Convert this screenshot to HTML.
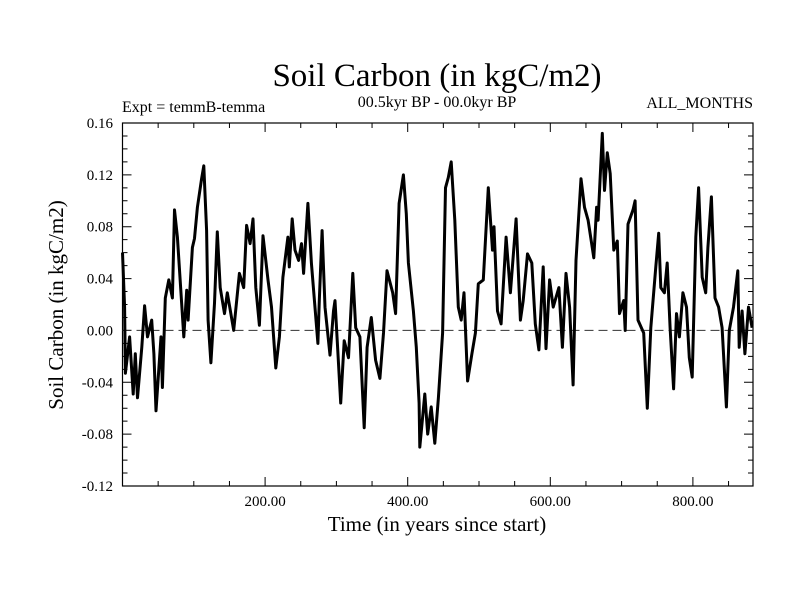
<!DOCTYPE html>
<html><head><meta charset="utf-8"><style>
body{margin:0;background:#fff;}
svg{display:block;font-family:"Liberation Serif",serif;}
</style></head><body>
<svg id="chart" width="800" height="600">
<text x="437" y="86" font-size="33" text-anchor="middle">Soil Carbon (in kgC/m2)</text>
<text x="122" y="112" font-size="16">Expt = temmB-temma</text>
<text x="437" y="107" font-size="16" text-anchor="middle">00.5kyr BP - 00.0kyr BP</text>
<text x="753" y="108" font-size="16" text-anchor="end">ALL_MONTHS</text>
<text x="437" y="531" font-size="21" text-anchor="middle">Time (in years since start)</text>
<text transform="translate(63,305) rotate(-90)" font-size="21" text-anchor="middle">Soil Carbon (in kgC/m2)</text>
<g id="axes"></g>
<g id="plot"></g>
</svg>
<script>
const years=[0,3,4,10,15,18,21,27,31,35,41,44,47,54,56,60,65,70,73,77,86,90,92,98,101,105,111,114,118,120,124,129,133,137,143,147,156,164,170,174,179,183,187,192,197,204,209,215,220,225,232,234,238,242,247,251,254,260,265,268,274,276,280,284,291,296,298,306,311,317,323,327,333,339,343,349,355,361,366,371,379,383,388,394,398,401,408,412,416,417,424,428,433,438,443,449,453,457,461,466,471,475,479,484,490,495,499,506,513,519,521,526,531,538,544,552,558,562,568,574,579,584,590,594,599,604,612,617,622,627,632,636,643,648,653,661,665,667,673,676,680,684,689,694,697,703,705,709,716,719,723,731,736,741,748,752,755,760,764,768,773,777,781,786,791,795,799,804,808,813,818,821,826,831,836,841,847,851,857,863,865,869,873,878,883];
const values=[0.060,0.018,-0.033,-0.005,-0.049,-0.018,-0.052,-0.013,0.019,-0.005,0.008,-0.018,-0.062,-0.005,-0.044,0.025,0.039,0.025,0.093,0.072,-0.005,0.031,0.008,0.064,0.071,0.095,0.117,0.127,0.077,0.008,-0.025,0.021,0.076,0.033,0.013,0.029,0.000,0.044,0.033,0.081,0.067,0.086,0.033,0.004,0.073,0.039,0.018,-0.029,-0.005,0.041,0.072,0.049,0.086,0.062,0.054,0.067,0.044,0.098,0.052,0.031,-0.010,0.023,0.077,0.018,-0.019,0.015,0.023,-0.056,-0.008,-0.021,0.044,0.002,-0.005,-0.075,-0.013,0.010,-0.023,-0.037,-0.002,0.046,0.029,0.013,0.098,0.120,0.090,0.052,0.015,-0.013,-0.056,-0.090,-0.049,-0.080,-0.059,-0.087,-0.052,-0.002,0.110,0.118,0.130,0.085,0.018,0.008,0.029,-0.039,-0.018,-0.002,0.036,0.039,0.110,0.062,0.080,0.015,0.005,0.072,0.029,0.086,0.008,0.023,0.059,0.052,0.005,-0.015,0.049,-0.014,0.039,0.018,0.033,-0.013,0.044,0.018,-0.042,0.054,0.117,0.095,0.085,0.056,0.095,0.085,0.152,0.108,0.137,0.121,0.062,0.069,0.013,0.023,0.000,0.082,0.093,0.100,0.008,-0.002,-0.060,0.002,0.049,0.075,0.033,0.029,0.052,0.002,-0.045,0.013,-0.005,0.029,0.018,-0.021,-0.036,0.072,0.110,0.041,0.029,0.064,0.103,0.025,0.018,0.002,-0.059,0.000,0.018,0.046,-0.013,0.015,-0.018,0.018,0.002];
const xTickLabels=[200,400,600,800];
const yTickLabels=[-0.12,-0.08,-0.04,0.00,0.04,0.08,0.12,0.16];

const L=122.5,R=753,T=123,B=486,XMAX=(R-L)/0.713,YMIN=-0.12,YMAX=0.16;
function xs(v){return L+(v/XMAX)*(R-L);}
function ys(v){return B-(v-YMIN)/(YMAX-YMIN)*(B-T);}
const NS="http://www.w3.org/2000/svg";
const axes=document.getElementById('axes'),plot=document.getElementById('plot');
function mk(tag,attrs,parent){const e=document.createElementNS(NS,tag);for(const k in attrs)e.setAttribute(k,attrs[k]);parent.appendChild(e);return e;}

const frame=mk('rect',{x:L,y:T,width:R-L,height:B-T,fill:'none',stroke:'#000','stroke-width':1.2},axes);



let td='';
for(let v=50;v<XMAX;v+=50){const x=xs(v);const len=(v%200===0)?9:5;td+=`M${x},${B}v${-len}M${x},${T}v${len}`;}
for(let i=-12;i<=16;i++){const y=ys(i/100);const len=(i%4===0)?9:5;td+=`M${L},${y}h${len}M${R},${y}h${-len}`;}
const ticks=mk('path',{d:td,stroke:'#000','stroke-width':1,fill:'none'},axes);



xTickLabels.forEach(v=>{const t=mk('text',{x:xs(v),y:506,'font-size':15,'text-anchor':'middle'},axes);t.textContent=v.toFixed(2);

});
yTickLabels.forEach(v=>{const t=mk('text',{x:113,y:ys(v)+5,'font-size':15,'text-anchor':'end'},axes);t.textContent=v.toFixed(2);

});

const zero=mk('line',{x1:L,x2:R,y1:ys(0),y2:ys(0),stroke:'#333','stroke-width':1,'stroke-dasharray':'9,5'},plot);



let d='';years.forEach((yr,i)=>{d+=(i?'L':'M')+xs(yr).toFixed(1)+','+ys(values[i]).toFixed(1);});
const line=mk('path',{d:d,fill:'none',stroke:'#000','stroke-width':3,'stroke-linejoin':'round'},plot);


</script>
</body></html>
